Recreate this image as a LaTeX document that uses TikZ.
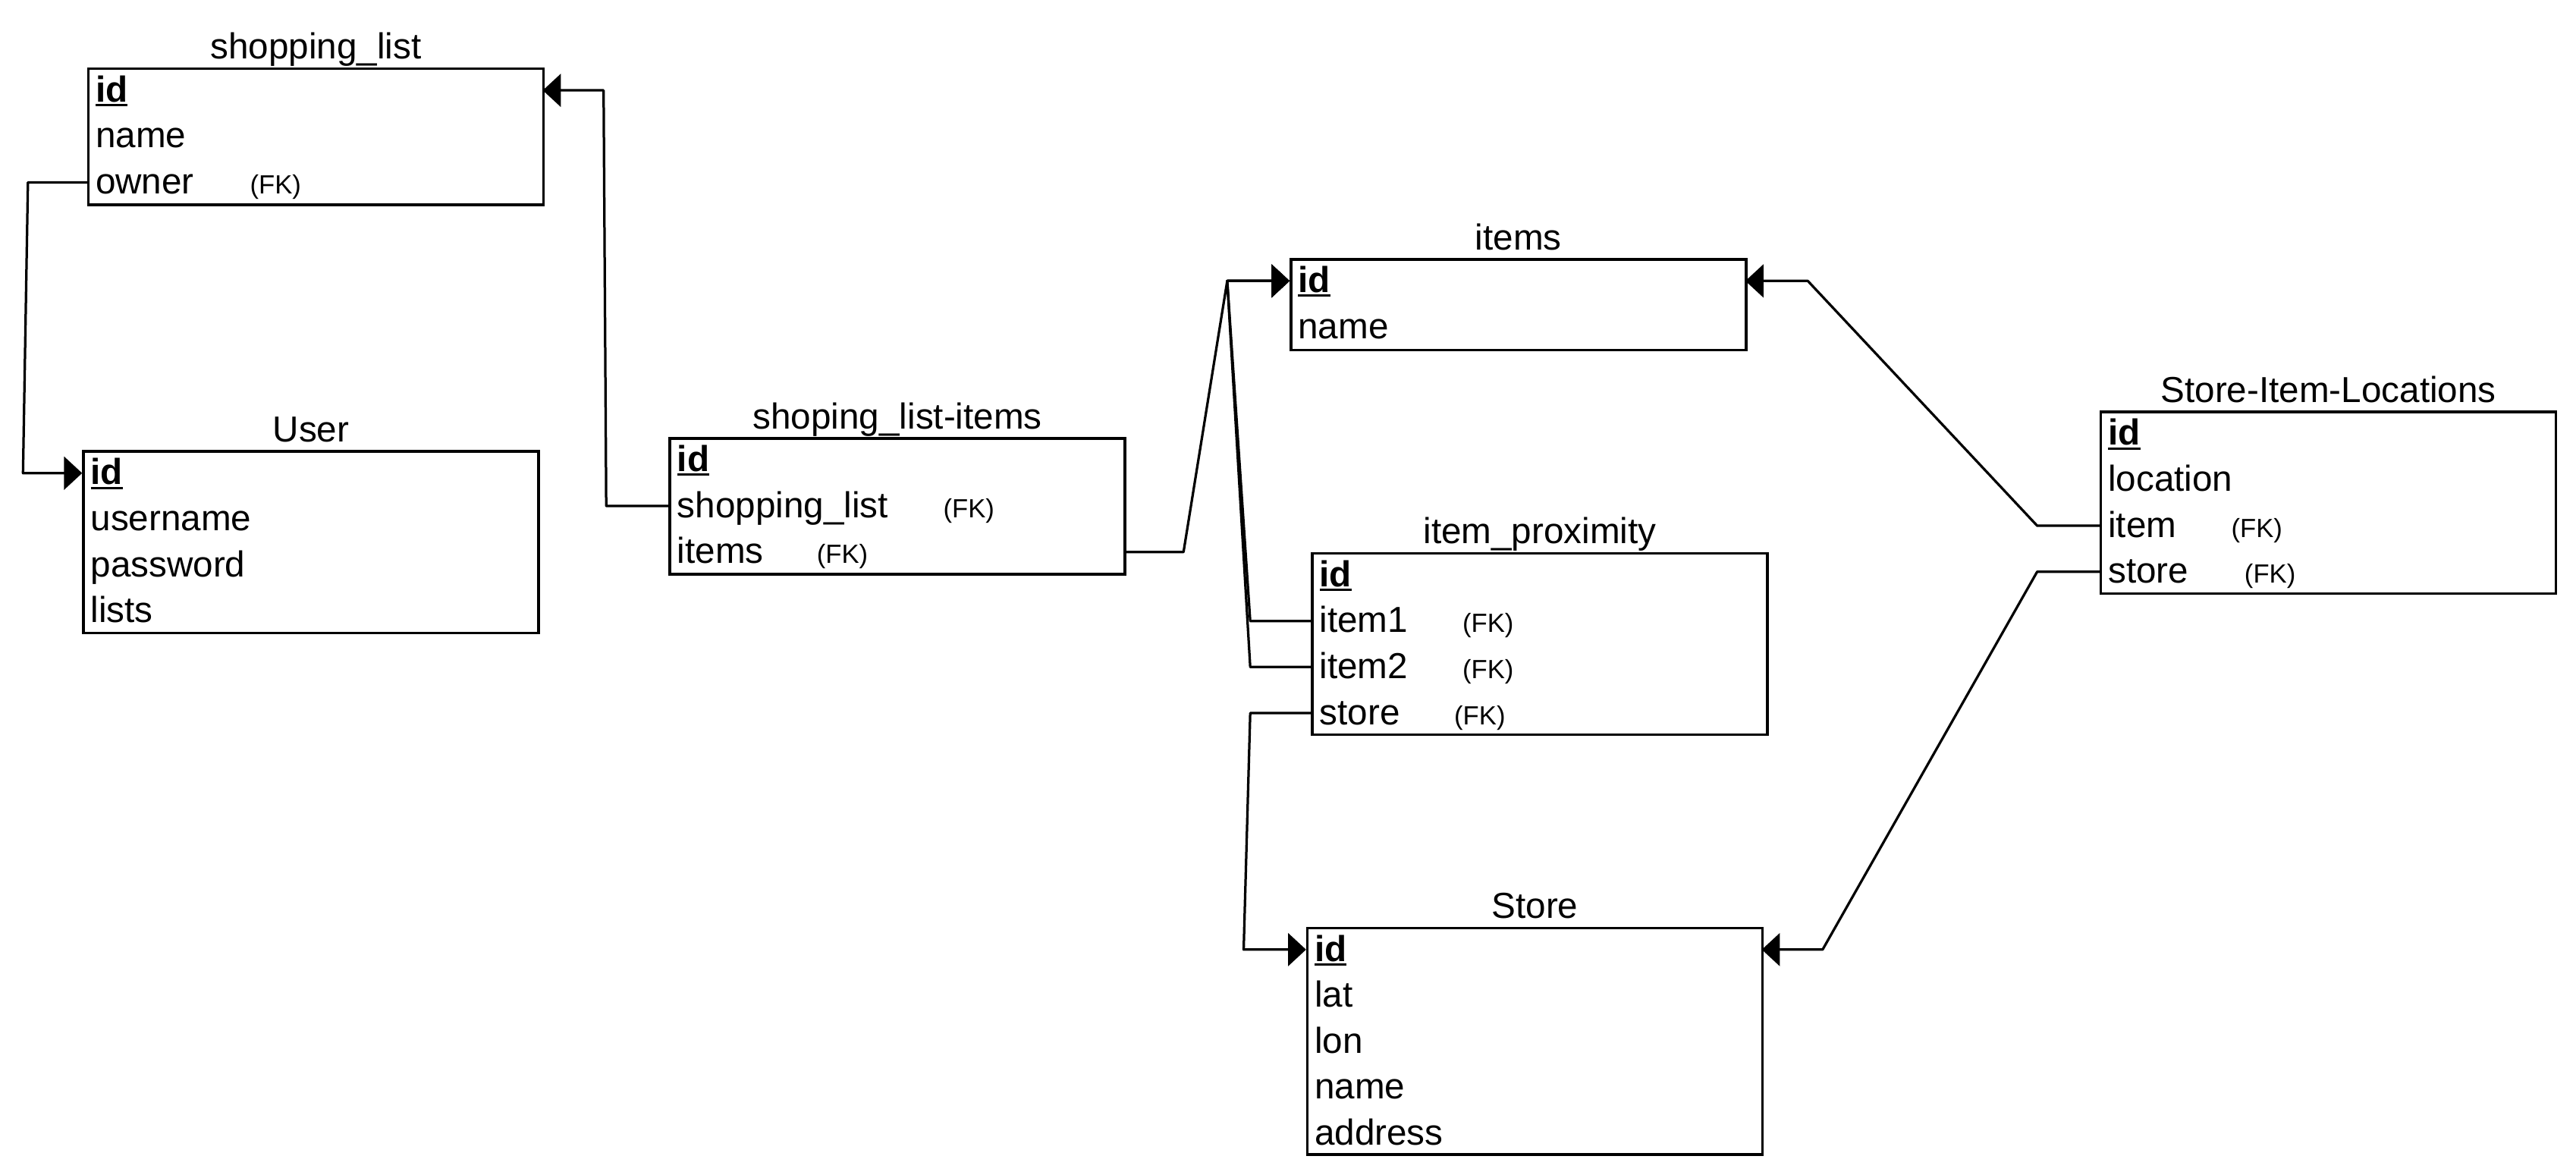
\documentclass[tikz,border=0pt]{standalone}
\usepackage{fontspec}
\setmainfont{Liberation Sans}
\usetikzlibrary{arrows.meta,calc}
\newcommand\rowfont{\fontsize{22}{26}\selectfont}
\newcommand\fkfont{\fontsize{16}{19}\selectfont}
\tikzset{
 tbl/.style={draw, line width=1.6pt, minimum width=277pt, inner sep=0pt, anchor=north west},
 row/.style={inner xsep=5pt, inner ysep=0pt, text width=267pt, align=left, minimum height=27.6pt, text height=18pt, text depth=4pt, anchor=north west, font=\rowfont},
 ttl/.style={anchor=base, font=\rowfont, inner sep=0pt},
 fk/.style={anchor=base west, font=\fkfont, inner sep=0pt},
 conn/.style={line width=1.5pt, line join=round, -{Triangle[length=11pt,width=20pt]}},
}
\newcommand\pk{\setbox0\hbox{\textbf{id}}\rlap{\rule[-2.6pt]{\wd0}{1.4pt}}\box0}
\begin{document}
\begin{tikzpicture}[x=1pt,y=-1pt]
\useasboundingbox (0,0) rectangle (1568,715);
% shopping_list
\node[tbl, minimum height=82.8pt] (sl) at (53,41) {};
\node[ttl] (sl-t) at ([yshift=5pt]sl.north) {shopping\_list};
\node[row] (sl-r1) at (sl.north west) {\pk};
\node[row] (sl-r2) at (sl-r1.south west) {name};
\node[row] (sl-r3) at (sl-r2.south west) {owner};
\node[fk] (sl-f3) at ([xshift=99pt]sl-r3.base west) {(FK)};
% User
\node[tbl, minimum height=110.4pt] (u) at (50,274) {};
\node[ttl] (u-t) at ([yshift=5pt]u.north) {User};
\node[row] (u-r1) at (u.north west) {\pk};
\node[row] (u-r2) at (u-r1.south west) {username};
\node[row] (u-r3) at (u-r2.south west) {password};
\node[row] (u-r4) at (u-r3.south west) {lists};
% shoping_list-items
\node[tbl, minimum height=82.8pt] (sli) at (407,266) {};
\node[ttl] (sli-t) at ([yshift=5pt]sli.north) {shoping\_list-items};
\node[row] (sli-r1) at (sli.north west) {\pk};
\node[row] (sli-r2) at (sli-r1.south west) {shopping\_list};
\node[row] (sli-r3) at (sli-r2.south west) {items};
\node[fk] (sli-f2) at ([xshift=167pt]sli-r2.base west) {(FK)};
\node[fk] (sli-f3) at ([xshift=90pt]sli-r3.base west) {(FK)};
% items
\node[tbl, minimum height=55.2pt] (it) at (785,157) {};
\node[ttl] (it-t) at ([yshift=5pt]it.north) {items};
\node[row] (it-r1) at (it.north west) {\pk};
\node[row] (it-r2) at (it-r1.south west) {name};
% item_proximity
\node[tbl, minimum height=110.4pt] (ip) at (798,336) {};
\node[ttl] (ip-t) at ([yshift=5pt]ip.north) {item\_proximity};
\node[row] (ip-r1) at (ip.north west) {\pk};
\node[row] (ip-r2) at (ip-r1.south west) {item1};
\node[row] (ip-r3) at (ip-r2.south west) {item2};
\node[row] (ip-r4) at (ip-r3.south west) {store};
\node[fk] (ip-f2) at ([xshift=92pt]ip-r2.base west) {(FK)};
\node[fk] (ip-f3) at ([xshift=92pt]ip-r3.base west) {(FK)};
\node[fk] (ip-f4) at ([xshift=87pt]ip-r4.base west) {(FK)};
% Store
\node[tbl, minimum height=138pt] (st) at (795,564) {};
\node[ttl] (st-t) at ([yshift=5pt]st.north) {Store};
\node[row] (st-r1) at (st.north west) {\pk};
\node[row] (st-r2) at (st-r1.south west) {lat};
\node[row] (st-r3) at (st-r2.south west) {lon};
\node[row] (st-r4) at (st-r3.south west) {name};
\node[row] (st-r5) at (st-r4.south west) {address};
% Store-Item-Locations
\node[tbl, minimum height=110.4pt] (sil) at (1278,250) {};
\node[ttl] (sil-t) at ([yshift=5pt]sil.north) {Store-Item-Locations};
\node[row] (sil-r1) at (sil.north west) {\pk};
\node[row] (sil-r2) at (sil-r1.south west) {location};
\node[row] (sil-r3) at (sil-r2.south west) {item};
\node[row] (sil-r4) at (sil-r3.south west) {store};
\node[fk] (sil-f3) at ([xshift=80pt]sil-r3.base west) {(FK)};
\node[fk] (sil-f4) at ([xshift=88pt]sil-r4.base west) {(FK)};
% connectors
\draw[conn] (sl-r3.west) -- ([xshift=-36pt]sl-r3.west) -- ([xshift=-36pt]u-r1.west) -- (u-r1.west);
\draw[conn] (sli-r2.west) -- ([xshift=-38pt]sli-r2.west) -- ([xshift=37pt]sl-r1.east) -- (sl-r1.east);
\draw[conn] (sli-r3.east) -- ([xshift=36pt]sli-r3.east) -- ([xshift=-38pt]it-r1.west) -- (it-r1.west);
\draw[conn] (ip-r2.west) -- ([xshift=-37pt]ip-r2.west) -- ([xshift=-38pt]it-r1.west) -- (it-r1.west);
\draw[conn] (ip-r3.west) -- ([xshift=-37pt]ip-r3.west) -- ([xshift=-38pt]it-r1.west) -- (it-r1.west);
\draw[conn] (ip-r4.west) -- ([xshift=-37pt]ip-r4.west) -- ([xshift=-38pt]st-r1.west) -- (st-r1.west);
\draw[conn] (sil-r3.west) -- ([xshift=-38pt]sil-r3.west) -- ([xshift=38pt]it-r1.east) -- (it-r1.east);
\draw[conn] (sil-r4.west) -- ([xshift=-38pt]sil-r4.west) -- ([xshift=37pt]st-r1.east) -- (st-r1.east);
\end{tikzpicture}
\end{document}
